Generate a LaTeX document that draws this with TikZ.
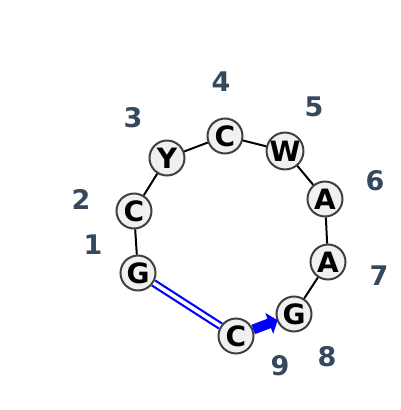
\documentclass[tikz,border=0pt]{standalone}
\usepackage{fontspec}
\setmainfont{DejaVu Sans}
\usetikzlibrary{arrows.meta}
\definecolor{numgray}{RGB}{52,73,94}
\definecolor{nodefill}{RGB}{240,240,240}
\definecolor{nodeline}{RGB}{64,64,64}
\tikzset{
  base/.style={circle, draw=nodeline, fill=nodefill, line width=2pt, minimum size=35pt, inner sep=0pt, font=\fontsize{28}{28}\selectfont\bfseries},
  num/.style={text=numgray, font=\fontsize{27}{27}\selectfont\bfseries},
  bb/.style={line width=2pt}
}
\begin{document}
\begin{tikzpicture}[x=1pt,y=-1pt]
\useasboundingbox (0,0) rectangle (400,410);
\node[base] (n1) at (138,273) {G};
\node[base] (n2) at (134,211) {C};
\node[base] (n3) at (167,158) {Y};
\node[base] (n4) at (225,136) {C};
\node[base] (n5) at (285,151) {W};
\node[base] (n6) at (325,199) {A};
\node[base] (n7) at (328,262) {A};
\node[base] (n8) at (294,314) {G};
\node[base] (n9) at (236,336) {C};
\node[num] (l1) at (93,245) {1};
\node[num] (l2) at (81,199) {2};
\node[num] (l3) at (133,118) {3};
\node[num] (l4) at (221,82) {4};
\node[num] (l5) at (314,107) {5};
\node[num] (l6) at (375,181) {6};
\node[num] (l7) at (379,276) {7};
\node[num] (l8) at (327,357) {8};
\node[num] (l9) at (280,366) {9};
\draw[bb] (n1) -- (n2);
\draw[bb] (n2) -- (n3);
\draw[bb] (n3) -- (n4);
\draw[bb] (n4) -- (n5);
\draw[bb] (n5) -- (n6);
\draw[bb] (n6) -- (n7);
\draw[bb] (n7) -- (n8);
\draw[blue, line width=2.2pt, double=white, double distance=3.6pt] (n1) -- (n9);
\draw[blue, line width=10pt, -{Triangle[length=9pt, width=22pt]}, shorten >=-1pt] (n9) -- (n8);
\end{tikzpicture}
\end{document}
